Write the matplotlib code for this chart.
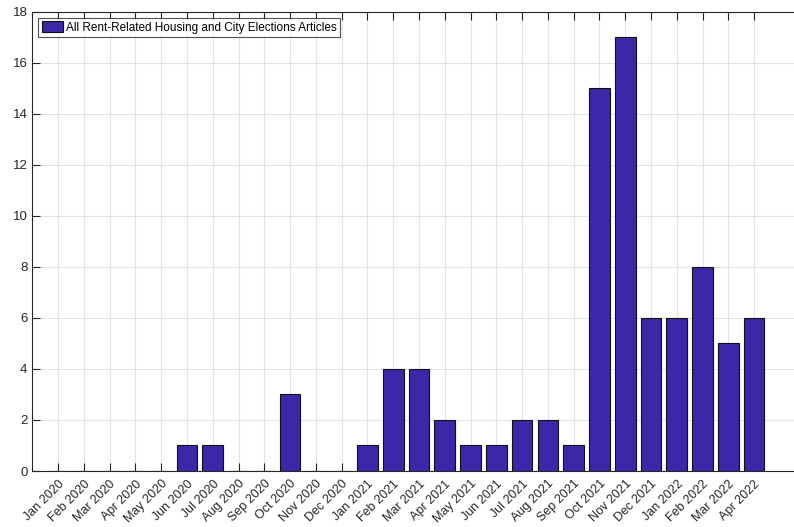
import matplotlib
matplotlib.use("Agg")
import matplotlib.pyplot as plt
import numpy as np

months = ["Jan 2020", "Feb 2020", "Mar 2020", "Apr 2020", "May 2020", "Jun 2020",
          "Jul 2020", "Aug 2020", "Sep 2020", "Oct 2020", "Nov 2020", "Dec 2020",
          "Jan 2021", "Feb 2021", "Mar 2021", "Apr 2021", "May 2021", "Jun 2021",
          "Jul 2021", "Aug 2021", "Sep 2021", "Oct 2021", "Nov 2021", "Dec 2021",
          "Jan 2022", "Feb 2022", "Mar 2022", "Apr 2022"]
counts = [0, 0, 0, 0, 0, 1, 1, 0, 0, 3, 0, 0,
          1, 4, 4, 2, 1, 1, 2, 2, 1, 15, 17, 6,
          6, 8, 5, 6]
series_label = "All Rent-Related Housing and City Elections Articles"
yticks = list(range(0, 19, 2))

plt.rcParams['font.family'] = ['Liberation Sans', 'DejaVu Sans']

fig = plt.figure(figsize=(7.94, 5.27), dpi=100)
W, H = 794, 527
left, right, top, bottom = 32.3, 805.7, 11.5, 471
ax = fig.add_axes([left / W, (H - bottom) / H, (right - left) / W, (bottom - top) / H])

x = np.arange(1, len(months) + 1)
ax.bar(x, counts, width=0.8, color='#3e26a8', edgecolor='#111111', linewidth=0.8,
       label=series_label, zorder=3)

ax.set_xlim(0, 30)
ax.set_ylim(0, 18)
ax.set_xticks(x)
ax.set_xticklabels(months, rotation=45, ha='right', rotation_mode='anchor')
ax.set_yticks(yticks)

ax.grid(True, color='#e3e3e3', linewidth=0.8, zorder=0)
ax.set_axisbelow(True)

for s in ['left', 'top', 'bottom']:
    ax.spines[s].set_color('#262626')
    ax.spines[s].set_linewidth(0.8)
ax.spines['right'].set_visible(False)
ax.tick_params(axis='both', direction='in', length=6, width=0.8, color='#262626',
               labelsize=9, labelcolor='#262626', top=True, right=False)
ax.tick_params(axis='y', labelsize=9.5)
ax.tick_params(axis='x', pad=5)

leg = ax.legend(loc='upper left', bbox_to_anchor=(6.0 / (right - left), 1 - 6 / (bottom - top)),
                fontsize=8.5, frameon=True, fancybox=False, borderpad=0.3,
                handlelength=1.8, handleheight=1.1, handletextpad=0.25, borderaxespad=0)
leg.get_frame().set_edgecolor('#262626')
leg.get_frame().set_linewidth(0.8)

fig.savefig("out.png", dpi=100)
